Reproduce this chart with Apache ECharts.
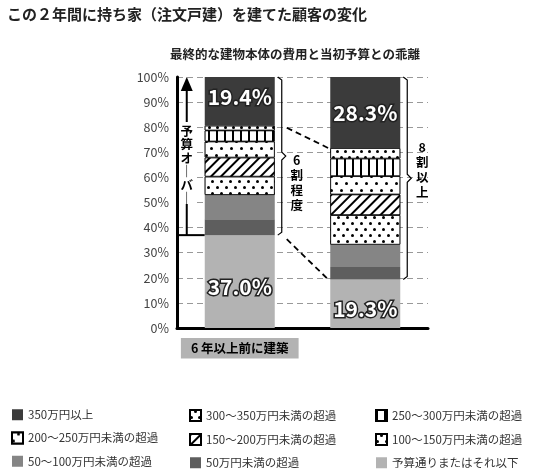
<!DOCTYPE html>
<html><head><meta charset="utf-8">
<script src="https://cdn.jsdelivr.net/npm/echarts@6/dist/echarts.min.js"></script>
<style>html,body{margin:0;padding:0;background:#fff}#c{width:540px;height:473px}</style>
</head><body><div id="c"></div>
<script>
var categories = ['6 年以上前に建築', '直近 2 年で建築'];
var names = ['予算通りまたはそれ以下', '50万円未満の超過', '50～100万円未満の超過', '100～150万円未満の超過',
  '150～200万円未満の超過', '200～250万円未満の超過', '250～300万円未満の超過', '300～350万円未満の超過', '350万円以上'];
var budgetOk = [37.0, 19.3];
var over50 = [6.3, 5.0];
var over100 = [9.7, 8.9];
var over150 = [7.3, 11.8];
var over200 = [7.6, 8.2];
var over250 = [6.4, 7.3];
var over300 = [4.4, 7.0];
var over350 = [1.9, 4.2];
var overMax = [19.4, 28.3];
var yTicks = [0, 10, 20, 30, 40, 50, 60, 70, 80, 90, 100];

var FONT = '"Noto Sans CJK JP", sans-serif';
var chart = echarts.init(document.getElementById('c'));

function dots(d, gap) {
  return { symbol: 'circle', symbolSize: 1, color: '#000', backgroundColor: '#fff',
    dashArrayX: [[d, gap], [0, (d + gap) / 2, d, gap - (d + gap) / 2 + d > 0 ? (gap - d) / 2 : 0]], dashArrayY: [d, gap - d] };
}
var styles = [
  { color: '#b3b3b3' },
  { color: '#5e5e5e' },
  { color: '#858585' },
  { color: '#fff', decal: { symbol: 'circle', symbolSize: 1, color: '#000', backgroundColor: '#fff', dashArrayX: [[3, 6], [0, 4, 3, 2]], dashArrayY: [3, 3] } },
  { color: '#fff', decal: { symbol: 'rect', color: '#000', backgroundColor: '#fff', dashArrayX: [1, 0], dashArrayY: [2, 5], rotation: -Math.PI / 4 } },
  { color: '#fff', decal: { symbol: 'circle', symbolSize: 1, color: '#000', backgroundColor: '#fff', dashArrayX: [[2.5, 7], [0, 5, 2.5, 2]], dashArrayY: [2.5, 3.5] } },
  { color: '#fff', decal: { symbol: 'rect', color: '#000', backgroundColor: '#fff', dashArrayX: [2, 6], dashArrayY: [1, 0] } },
  { color: '#fff', decal: { symbol: 'circle', symbolSize: 1, color: '#000', backgroundColor: '#fff', dashArrayX: [[2.5, 5], [0, 4, 2.5, 1]], dashArrayY: [2.5, 2.5] } },
  { color: '#3b3b3b' }
];
var data = [budgetOk, over50, over100, over150, over200, over250, over300, over350, overMax];

var big = { show: true, position: 'inside', formatter: function (p) { return p.value.toFixed(1) + '%'; },
  fontFamily: FONT, fontWeight: 'bold', fontSize: 21, color: '#fff', textBorderColor: '#222', textBorderWidth: 3 };

var series = names.map(function (n, i) {
  var s = { name: n, type: 'bar', stack: 'a', barWidth: 70, data: data[i].slice(),
    itemStyle: Object.assign({ borderColor: i >= 3 && i <= 7 ? '#000' : null, borderWidth: i >= 3 && i <= 7 ? 0.8 : 0 }, styles[i]) };
  if (i === 0 || i === 8) s.label = Object.assign({}, big);
  return s;
});
series[0].data = [{ value: budgetOk[0], label: { position: 'insideBottom', distance: 30 } }, { value: budgetOk[1], label: { position: 'insideBottom', distance: 8 } }];
series[8].data = [{ value: overMax[0], label: { position: 'insideTop', distance: 10 } }, { value: overMax[1], label: { position: 'inside' } }];

function legendFor(list, left) {
  return { data: list, left: left, top: 404, orient: 'vertical', itemGap: 11, itemWidth: 11, itemHeight: 11,
    icon: 'rect', textStyle: { fontFamily: FONT, fontSize: 11.5, color: '#333' }, selectedMode: false };
}

chart.setOption({
  animation: false,
  aria: { enabled: false, decal: { show: true } },
  title: [
    { text: 'この２年間に持ち家（注文戸建）を建てた顧客の変化', left: 2, top: 2,
      textStyle: { fontFamily: FONT, fontSize: 15, fontWeight: 'bold', color: '#222' } },
    { text: '最終的な建物本体の費用と当初予算との乖離', left: 290, textAlign: 'center', top: 43,
      textStyle: { fontFamily: FONT, fontSize: 12.5, fontWeight: 'bold', color: '#222' } }
  ],
  legend: [
    legendFor([names[8], names[5], names[2]], 6),
    legendFor([names[7], names[4], names[1]], 184),
    legendFor([names[6], names[3], names[0]], 370)
  ],
  grid: { left: 177, right: 112, top: 77, bottom: 145 },
  xAxis: { type: 'category', data: categories,
    axisLine: { lineStyle: { color: '#000', width: 3 } }, axisTick: { show: false },
    axisLabel: { fontFamily: FONT, fontWeight: 'bold', fontSize: 12.5, color: '#000', margin: 10,
      backgroundColor: '#b3b3b3', padding: [4, 10, 4, 10] } },
  yAxis: { type: 'value', min: 0, max: 100, interval: 10,
    axisLine: { show: true, lineStyle: { color: '#000', width: 3 } },
    axisLabel: { fontFamily: FONT, fontSize: 12.5, color: '#444', formatter: function (v) { return yTicks.indexOf(v) >= 0 ? v + '%' : ''; } },
    splitLine: { lineStyle: { color: '#999', type: [6, 4] } } },
  series: series
});

// annotations positioned from the chart scales
function px(ci, v) { return chart.convertToPixel({ xAxisIndex: 0, yAxisIndex: 0 }, [ci, v]); }
var sum = function (ci, k) { var t = 0; for (var i = 0; i < k; i++) t += data[i][ci]; return t; };
var half = 35;
var b1Top = px(0, sum(0, 8)), b1Bot = px(0, budgetOk[0]), b2Top = px(1, sum(1, 8)), b2Bot = px(1, budgetOk[1]);
var top100a = px(0, 100), top100b = px(1, 100);
var ax = top100a[0] - half - 18;
function bracket(x, y1, y2) {
  var ym = (y1 + y2) / 2;
  return { type: 'polyline', shape: { points: [[x, y1], [x + 4, y1 + 3], [x + 4, ym - 4], [x + 8, ym], [x + 4, ym + 4], [x + 4, y2 - 3], [x, y2]] },
    style: { stroke: '#000', lineWidth: 1.2, fill: null } };
}
var dash = { stroke: '#000', lineWidth: 1.8, lineDash: [6, 4] };
var vtext = { fontFamily: FONT, fontSize: 12.5, fontWeight: 'bold', fill: '#000' };
chart.setOption({ graphic: [
  { type: 'line', shape: { x1: ax, y1: b1Bot[1], x2: ax, y2: top100a[1] + 10 }, style: { stroke: '#000', lineWidth: 2 } },
  { type: 'polygon', shape: { points: [[ax - 6, top100a[1] + 14], [ax + 6, top100a[1] + 14], [ax, top100a[1]]] }, style: { fill: '#000' } },
  { type: 'line', shape: { x1: ax - 8, y1: b1Bot[1], x2: b1Bot[0] - half, y2: b1Bot[1] }, style: { stroke: '#000', lineWidth: 2 } },
  { type: 'rect', shape: { x: ax - 8, y: top100a[1] + 45, width: 16, height: 82 }, style: { fill: '#fff' } },
  { type: 'text', x: ax, y: top100a[1] + 47, style: Object.assign({ text: '予\n算\nオ\n｜\nバ\n｜', align: 'center', lineHeight: 13.5 }, vtext) },
  bracket(b1Top[0] + half + 3, top100a[1], b1Bot[1]),
  bracket(b2Top[0] + half + 3, top100b[1], b2Bot[1]),
  { type: 'text', x: b1Top[0] + half + 22, y: px(0, 70)[1], style: Object.assign({ text: '6\n割\n程\n度', align: 'center', lineHeight: 15 }, vtext) },
  { type: 'text', x: b2Top[0] + half + 22, y: px(1, 75)[1], style: Object.assign({ text: '8\n割\n以\n上', align: 'center', lineHeight: 15 }, vtext) },
  { type: 'line', shape: { x1: b1Top[0] + half + 12, y1: b1Top[1] + 2, x2: b2Top[0] - half - 2, y2: b2Top[1] }, style: dash },
  { type: 'line', shape: { x1: b1Bot[0] + half + 12, y1: b1Bot[1] + 4, x2: b2Bot[0] - half - 2, y2: b2Bot[1] }, style: dash }
] });
</script></body></html>
